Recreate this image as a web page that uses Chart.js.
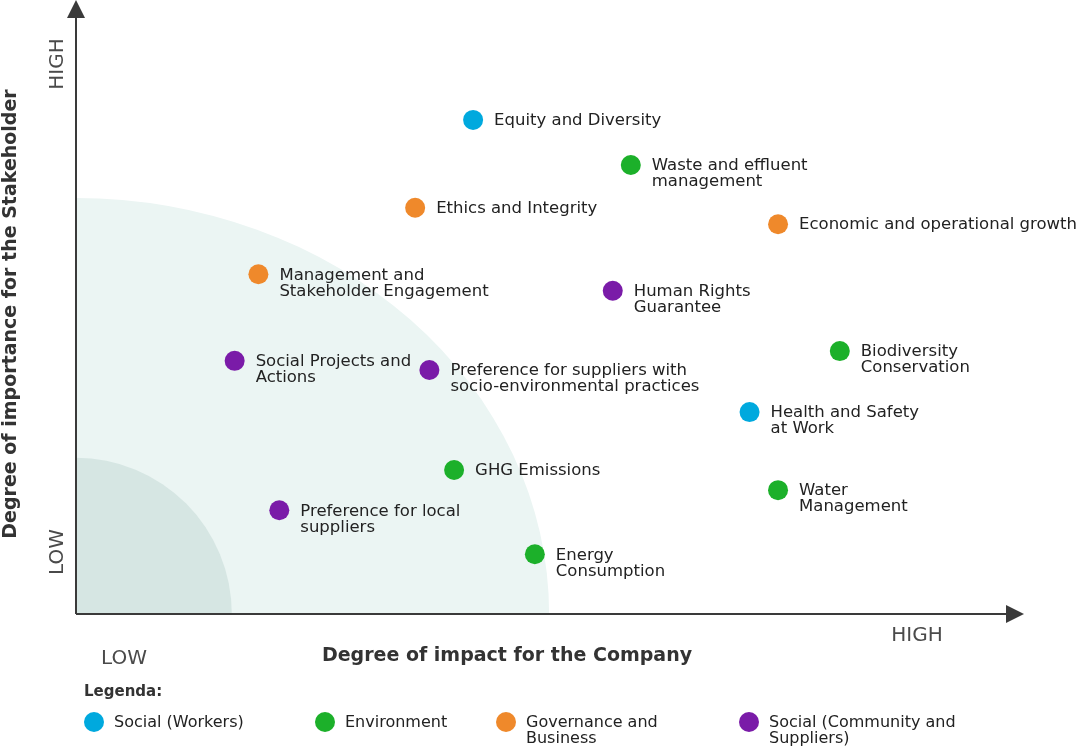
<!DOCTYPE html>
<html>
<head>
<meta charset="utf-8">
<script src="https://cdn.jsdelivr.net/npm/chart.js@4.4.0/dist/chart.umd.min.js"></script>
<style>
  html, body { margin: 0; padding: 0; background: #ffffff; }
  #wrap { width: 1080px; height: 748px; position: relative; }
</style>
</head>
<body>
<div id="wrap"><canvas id="matrix" width="1080" height="748"></canvas></div>
<script>
// ====== data ======
var categories = ['Social (Workers)', 'Environment', 'Governance and\nBusiness', 'Social (Community and\nSuppliers)'];
var categoryColors = ['#00a9de', '#1cb02a', '#ef892b', '#7a1ba8'];

var topics = [
    'Equity and Diversity',
    'Waste and effluent\nmanagement',
    'Ethics and Integrity',
    'Economic and operational growth',
    'Management and\nStakeholder Engagement',
    'Human Rights\nGuarantee',
    'Biodiversity\nConservation',
    'Social Projects and\nActions',
    'Preference for suppliers with\nsocio-environmental practices',
    'Health and Safety\nat Work',
    'GHG Emissions',
    'Water\nManagement',
    'Preference for local\nsuppliers',
    'Energy\nConsumption'
];
// index into categories
var topicCategory = [0, 1, 2, 2, 2, 3, 1, 3, 3, 0, 1, 1, 3, 1];
// impact for the company (x), importance for the stakeholder (y)
var impact     = [4.18, 5.84, 3.57, 7.39, 1.92, 5.65, 8.04, 1.67, 3.72, 7.09, 3.98, 7.39, 2.14, 4.83];
var importance = [8.10, 7.36, 6.66, 6.39, 5.57, 5.30, 4.31, 4.15, 4.00, 3.31, 2.36, 2.03, 1.70, 0.98];

// priority zones (quarter ellipses from origin), in axis units
var zoneRadiusX = [4.98, 1.64];
var zoneRadiusY = [6.82, 2.56];
var zoneColors = ['#ebf5f3', '#d6e6e3'];

var axisTitleX = 'Degree of impact for the Company';
var axisTitleY = 'Degree of importance for the Stakeholder';
var legendTitle = 'Legenda:';

var FONT = '"DejaVu Sans", sans-serif';

// ====== datasets per category ======
var datasets = categories.map(function(cat, ci) {
    var pts = [];
    topics.forEach(function(t, i) {
        if (topicCategory[i] === ci) pts.push({ x: impact[i], y: importance[i], label: t });
    });
    return {
        label: cat,
        data: pts,
        backgroundColor: categoryColors[ci],
        borderColor: categoryColors[ci],
        pointRadius: 10,
        pointHoverRadius: 10,
        borderWidth: 0,
        clip: false
    };
});

// ====== zones behind the points ======
var zonesPlugin = {
    id: 'zones',
    beforeDatasetsDraw: function(chart) {
        var c = chart.ctx, xs = chart.scales.x, ys = chart.scales.y;
        var ox = xs.getPixelForValue(0), oy = ys.getPixelForValue(0);
        c.save();
        zoneRadiusX.forEach(function(rx, i) {
            var px = xs.getPixelForValue(rx) - ox;
            var py = oy - ys.getPixelForValue(zoneRadiusY[i]);
            c.beginPath();
            c.moveTo(ox, oy);
            c.ellipse(ox, oy, px, py, 0, -Math.PI / 2, 0);
            c.closePath();
            c.fillStyle = zoneColors[i];
            c.fill();
        });
        c.restore();
    }
};

// ====== axes with arrows + words ======
var axesPlugin = {
    id: 'axesArrows',
    afterDatasetsDraw: function(chart) {
        var c = chart.ctx;
        var ox = chart.scales.x.getPixelForValue(0), oy = chart.scales.y.getPixelForValue(0);
        c.save();
        c.strokeStyle = '#3a3a3a';
        c.fillStyle = '#3a3a3a';
        c.lineWidth = 2;
        c.beginPath();
        c.moveTo(ox, oy);
        c.lineTo(1010, oy);
        c.moveTo(ox, oy);
        c.lineTo(ox, 14);
        c.stroke();
        c.beginPath();
        c.moveTo(1024, oy); c.lineTo(1006, oy - 9); c.lineTo(1006, oy + 9); c.closePath();
        c.fill();
        c.beginPath();
        c.moveTo(ox, 0); c.lineTo(ox - 9, 18); c.lineTo(ox + 9, 18); c.closePath();
        c.fill();

        // HIGH / LOW words
        c.fillStyle = '#4a4a4a';
        c.font = '20px ' + FONT;
        c.textAlign = 'center';
        c.textBaseline = 'middle';
        c.fillText('HIGH', 917, 636);
        c.fillText('LOW', 124, 659);
        c.save();
        c.translate(58, 64); c.rotate(-Math.PI / 2); c.fillText('HIGH', 0, 0);
        c.restore();
        c.save();
        c.translate(58, 552); c.rotate(-Math.PI / 2); c.fillText('LOW', 0, 0);
        c.restore();

        // axis titles
        c.fillStyle = '#333';
        c.font = 'bold 19px ' + FONT;
        c.fillText(axisTitleX, 507, 656);
        c.save();
        c.translate(11, 314); c.rotate(-Math.PI / 2); c.fillText(axisTitleY, 0, 0);
        c.restore();
        c.restore();
    }
};

// ====== point labels ======
var labelsPlugin = {
    id: 'pointLabels',
    afterDatasetsDraw: function(chart) {
        var c = chart.ctx;
        c.save();
        c.fillStyle = '#222';
        c.font = '16.5px ' + FONT;
        c.textAlign = 'left';
        c.textBaseline = 'middle';
        chart.data.datasets.forEach(function(ds, di) {
            var meta = chart.getDatasetMeta(di);
            meta.data.forEach(function(el, i) {
                var lines = ds.data[i].label.split('\n');
                lines.forEach(function(line, li) {
                    c.fillText(line, el.x + 21, el.y + 1 + li * 16);
                });
            });
        });
        c.restore();
    }
};

// ====== legend at the bottom ======
var legendPlugin = {
    id: 'bottomLegend',
    afterDraw: function(chart) {
        var c = chart.ctx;
        var itemX = [94, 325, 506, 749];
        c.save();
        c.fillStyle = '#333';
        c.font = 'bold 15px ' + FONT;
        c.textAlign = 'left';
        c.textBaseline = 'middle';
        c.fillText(legendTitle, 84, 692);
        c.font = '16px ' + FONT;
        categories.forEach(function(cat, i) {
            c.beginPath();
            c.arc(itemX[i], 722, 10, 0, Math.PI * 2);
            c.fillStyle = categoryColors[i];
            c.fill();
            c.fillStyle = '#222';
            cat.split('\n').forEach(function(line, li) {
                c.fillText(line, itemX[i] + 20, 723 + li * 16);
            });
        });
        c.restore();
    }
};

var ctx = document.getElementById('matrix').getContext('2d');
new Chart(ctx, {
    type: 'scatter',
    data: { datasets: datasets },
    options: {
        responsive: false,
        animation: false,
        events: [],
        layout: { autoPadding: false, padding: { left: 76, right: 54, top: 4, bottom: 134 } },
        plugins: { legend: { display: false }, tooltip: { enabled: false } },
        scales: {
            x: { type: 'linear', min: 0, max: 10, display: false },
            y: { type: 'linear', min: 0, max: 10, display: false }
        }
    },
    plugins: [zonesPlugin, axesPlugin, labelsPlugin, legendPlugin]
});
</script>
</body>
</html>
